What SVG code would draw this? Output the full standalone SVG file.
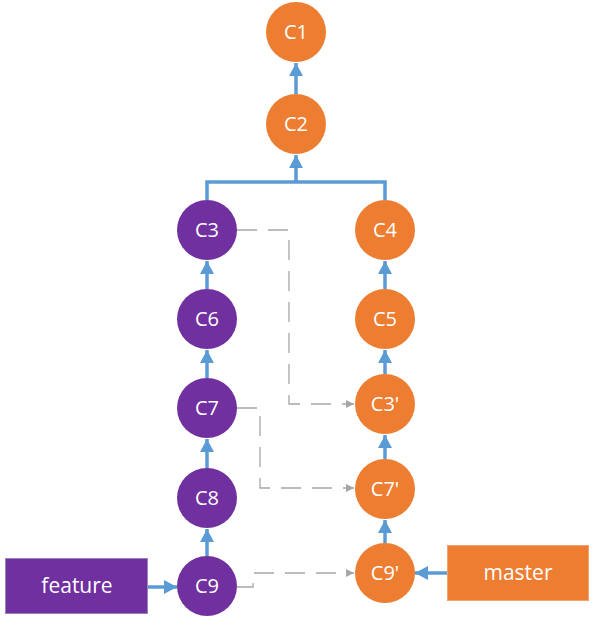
<svg xmlns="http://www.w3.org/2000/svg" width="596" height="625" viewBox="0 0 596 625">
<style>
.txt{font-family:"Open Sans","Noto Sans","DejaVu Sans",sans-serif;font-size:20px;fill:#ffffff;text-anchor:middle}
.big{font-size:21px}
.o{fill:#ED7D31}
.p{fill:#7030A0}
.blue{stroke:#5B9BD5;stroke-width:3.5;fill:none}
.dash{stroke:#A6A6A6;stroke-width:1.3;fill:none;stroke-dasharray:20 11}
</style>
<defs>
<marker id="ab" markerUnits="userSpaceOnUse" markerWidth="14" markerHeight="14" viewBox="0 0 14 14" refX="13" refY="7" orient="auto">
<path d="M0,0 L13,7 L0,14 Z" fill="#5B9BD5"/>
</marker>
<marker id="ag" markerUnits="userSpaceOnUse" markerWidth="9" markerHeight="8" viewBox="0 0 9 8" refX="8" refY="4" orient="auto">
<path d="M0,0 L8,4 L0,8 Z" fill="#A6A6A6"/>
</marker>
</defs>
<g id="connectors">
<path class="blue" d="M296,94 L296,63" marker-end="url(#ab)"/>
<path class="blue" d="M207,200 L207,182 L385,182 L385,200 M296,182 L296,155" marker-end="url(#ab)"/>
<path class="blue" d="M207,289 L207,261" marker-end="url(#ab)"/>
<path class="blue" d="M207,378 L207,350" marker-end="url(#ab)"/>
<path class="blue" d="M207,468 L207,439" marker-end="url(#ab)"/>
<path class="blue" d="M207,556 L207,529" marker-end="url(#ab)"/>
<path class="blue" d="M385,289 L385,261" marker-end="url(#ab)"/>
<path class="blue" d="M385,374 L385,350" marker-end="url(#ab)"/>
<path class="blue" d="M385,459 L385,435" marker-end="url(#ab)"/>
<path class="blue" d="M385,543 L385,520" marker-end="url(#ab)"/>
<path class="blue" d="M148,587 L177,587" marker-end="url(#ab)"/>
<path class="blue" d="M447,573 L415,573" marker-end="url(#ab)"/>
<path class="dash" d="M237,230 L289,230 L289,404 L354,404" marker-end="url(#ag)"/>
<path class="dash" d="M237,408 L260,408 L260,488 L354,488" marker-end="url(#ag)"/>
<path class="dash" d="M237,587 L253,587 L253,573 L354,573" marker-end="url(#ag)"/>
</g>
<g id="C1"><circle class="o" cx="296" cy="32" r="30"/><text class="txt" x="296" y="39">C1</text></g>
<g id="C2"><circle class="o" cx="296" cy="124" r="30"/><text class="txt" x="296" y="131">C2</text></g>
<g id="C3"><circle class="p" cx="207" cy="230" r="30"/><text class="txt" x="207" y="237">C3</text></g>
<g id="C4"><circle class="o" cx="385" cy="230" r="30"/><text class="txt" x="385" y="237">C4</text></g>
<g id="C6"><circle class="p" cx="207" cy="319" r="30"/><text class="txt" x="207" y="326">C6</text></g>
<g id="C5"><circle class="o" cx="385" cy="319" r="30"/><text class="txt" x="385" y="326">C5</text></g>
<g id="C7"><circle class="p" cx="207" cy="408" r="30"/><text class="txt" x="207" y="415">C7</text></g>
<g id="C3p"><circle class="o" cx="385" cy="404" r="30"/><text class="txt" x="385" y="411">C3'</text></g>
<g id="C8"><circle class="p" cx="207" cy="498" r="30"/><text class="txt" x="207" y="505">C8</text></g>
<g id="C7p"><circle class="o" cx="385" cy="489" r="30"/><text class="txt" x="385" y="496">C7'</text></g>
<g id="C9"><circle class="p" cx="207" cy="586" r="30"/><text class="txt" x="207" y="593">C9</text></g>
<g id="C9p"><circle class="o" cx="385" cy="573" r="30"/><text class="txt" x="385" y="580">C9'</text></g>
<g id="feature"><rect x="5.5" y="558.5" width="142" height="55" fill="#7030A0" stroke="#9a84b4" stroke-width="1"/><text class="txt big" x="77" y="593">feature</text></g>
<g id="master"><rect x="447.5" y="545.5" width="141" height="55" fill="#ED7D31" stroke="#f2a272" stroke-width="1"/><text class="txt big" x="518" y="580">master</text></g>
</svg>
